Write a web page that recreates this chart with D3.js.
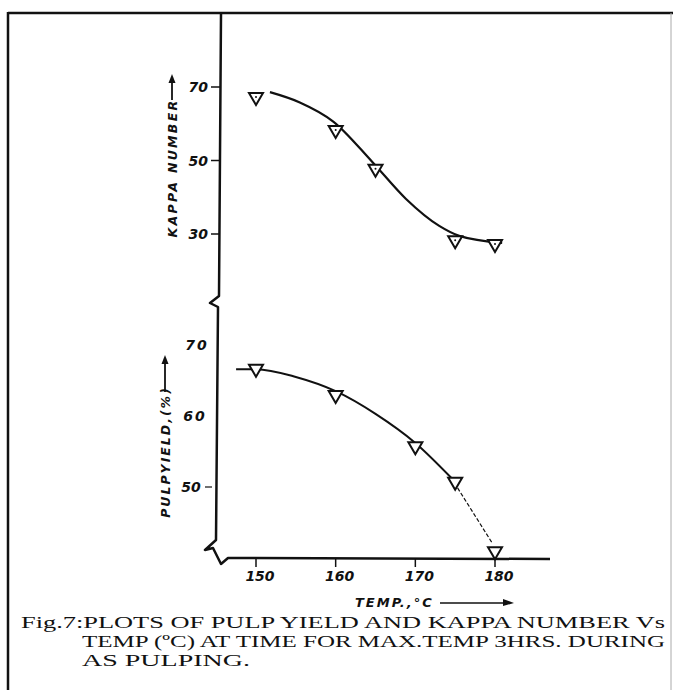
<!DOCTYPE html>
<html>
<head>
<meta charset="utf-8">
<script src="https://cdn.jsdelivr.net/npm/d3@7"></script>
<style>
  html, body { margin: 0; padding: 0; background: #fff; }
  svg { display: block; }
</style>
</head>
<body>
<svg id="chart" width="673" height="690"></svg>
<script>
// ---- data ----
const kappaTemps = [150, 160, 165, 175, 180];
const kappaValues = [67, 58, 47.5, 28, 27];
const yieldTemps = [150, 160, 170, 175, 180];
const yieldValues = [66.5, 62.8, 55.6, 50.6, 40.8];
// hand-drawn fitted curves (temp, value)
const kappaCurveTemps = [151.75, 155.5, 159.7, 164.6, 168.8, 173, 175.5, 180.9];
const kappaCurveValues = [68.6, 65.8, 60.6, 49.6, 39.6, 32.2, 29.5, 27.6];
const yieldCurveTemps = [147.5, 150, 155, 160, 165, 170, 174.5];
const yieldCurveValues = [66.6, 66.6, 65.5, 63.5, 60.3, 56.2, 51.3];
const yieldTailTemps = [174.5, 179.6];
const yieldTailValues = [51.3, 42.2];
const xTicks = [150, 160, 170, 180];
const kappaTicks = [70, 50, 30];
const yieldTicks = [70, 60, 50];
const captionLines = [
  "Fig.7:PLOTS OF PULP YIELD AND KAPPA NUMBER Vs",
  "TEMP (ºC) AT TIME FOR MAX.TEMP 3HRS. DURING",
  "AS PULPING."
];

// ---- scales ----
const x = d3.scaleLinear().domain([150, 180]).range([256, 495]);
const yK = d3.scaleLinear().domain([30, 70]).range([234, 87]);
const yY = d3.scaleLinear().domain([50, 70]).range([487, 345]);

const svg = d3.select("#chart");
const ink = "#111";
const handFont = "'DejaVu Sans', sans-serif";

// ---- frame ----
svg.append("line").attr("x1", 8).attr("x2", 673).attr("y1", 13).attr("y2", 13)
  .attr("stroke", ink).attr("stroke-width", 2.5);
svg.append("line").attr("x1", 8).attr("x2", 8).attr("y1", 12).attr("y2", 690)
  .attr("stroke", ink).attr("stroke-width", 2.5);
svg.append("line").attr("x1", 671).attr("x2", 671).attr("y1", 13).attr("y2", 690)
  .attr("stroke", "#aaa").attr("stroke-width", 1);

// ---- axes (hand-drawn with breaks) ----
const axisPath = d3.path();
axisPath.moveTo(221, 14);
axisPath.lineTo(219, 296);
axisPath.lineTo(210, 303);
axisPath.lineTo(218, 307);
axisPath.lineTo(216, 540);
axisPath.lineTo(205, 550);
axisPath.lineTo(213, 548);
axisPath.lineTo(221, 564);
axisPath.lineTo(228, 558);
axisPath.lineTo(550, 559);
svg.append("path").attr("d", axisPath.toString()).attr("fill", "none")
  .attr("stroke", ink).attr("stroke-width", 2.5).attr("stroke-linejoin", "round");

// x ticks
xTicks.forEach(t => {
  svg.append("line").attr("x1", x(t)).attr("x2", x(t)).attr("y1", 559).attr("y2", 567)
    .attr("stroke", ink).attr("stroke-width", 1.5);
  svg.append("text").attr("x", x(t) + 4).attr("y", 581)
    .attr("text-anchor", "middle").attr("font-family", handFont)
    .attr("font-weight", "bold").attr("font-style", "italic")
    .attr("font-size", 14).attr("fill", ink).text(t);
});

// kappa ticks
kappaTicks.forEach(t => {
  svg.append("line").attr("x1", 211).attr("x2", 220).attr("y1", yK(t)).attr("y2", yK(t))
    .attr("stroke", ink).attr("stroke-width", 1.5);
  svg.append("text").attr("x", 208).attr("y", yK(t) + 5)
    .attr("text-anchor", "end").attr("font-family", handFont)
    .attr("font-weight", "bold").attr("font-style", "italic")
    .attr("font-size", 14).attr("fill", ink).text(t);
});

// yield ticks
yieldTicks.forEach(t => {
  if (t === 50) {
    svg.append("line").attr("x1", 205).attr("x2", 212).attr("y1", yY(t)).attr("y2", yY(t))
      .attr("stroke", ink).attr("stroke-width", 1.2);
  }
  svg.append("text").attr("x", t === 50 ? 191 : (t === 70 ? 197 : 195)).attr("y", yY(t) + 5)
    .attr("text-anchor", "middle").attr("font-family", handFont)
    .attr("font-weight", "bold").attr("font-style", "italic")
    .attr("font-size", 14).attr("letter-spacing", t === 50 ? 0 : 2)
    .attr("fill", ink).text(t);
});

// ---- axis titles ----
function arrowUp(cx, y0, y1) {
  svg.append("line").attr("x1", cx).attr("x2", cx).attr("y1", y0).attr("y2", y1 + 6)
    .attr("stroke", ink).attr("stroke-width", 1.8);
  svg.append("path")
    .attr("d", `M${cx - 3.5},${y1 + 9} L${cx},${y1} L${cx + 3.5},${y1 + 9} Z`)
    .attr("fill", ink);
}
svg.append("text")
  .attr("transform", "translate(177,168) rotate(-90)")
  .attr("text-anchor", "middle").attr("font-family", handFont)
  .attr("font-weight", "bold").attr("font-style", "italic")
  .attr("font-size", 12.5).attr("letter-spacing", 2.3).attr("fill", ink)
  .text("KAPPA NUMBER");
arrowUp(172, 100, 74);

svg.append("text")
  .attr("transform", "translate(170,452) rotate(-90)")
  .attr("text-anchor", "middle").attr("font-family", handFont)
  .attr("font-weight", "bold").attr("font-style", "italic")
  .attr("font-size", 12.5).attr("letter-spacing", 2).attr("fill", ink)
  .text("PULPYIELD,(%)");
arrowUp(165, 392, 355);

svg.append("text").attr("x", 355).attr("y", 607)
  .attr("font-family", handFont).attr("font-weight", "bold").attr("font-style", "italic")
  .attr("font-size", 13).attr("letter-spacing", 2).attr("fill", ink)
  .text("TEMP.,°C");
svg.append("line").attr("x1", 440).attr("x2", 506).attr("y1", 603).attr("y2", 603)
  .attr("stroke", ink).attr("stroke-width", 1.6);
svg.append("path").attr("d", "M503,599 L514,603 L503,606 Z").attr("fill", ink);

// ---- curves ----
const line = (ys) => d3.line().x(d => x(d[0])).y(d => ys(d[1])).curve(d3.curveMonotoneX);
svg.append("path")
  .attr("d", line(yK)(d3.zip(kappaCurveTemps, kappaCurveValues)))
  .attr("fill", "none").attr("stroke", ink).attr("stroke-width", 2.2);
svg.append("path")
  .attr("d", line(yY)(d3.zip(yieldCurveTemps, yieldCurveValues)))
  .attr("fill", "none").attr("stroke", ink).attr("stroke-width", 2);
svg.append("path")
  .attr("d", d3.line().x(d => x(d[0])).y(d => yY(d[1]))(d3.zip(yieldTailTemps, yieldTailValues)))
  .attr("fill", "none").attr("stroke", ink).attr("stroke-width", 1.2)
  .attr("stroke-dasharray", "4,2");

// ---- markers (open down triangles) ----
function tri(cx, cy) {
  return `M${cx - 7},${cy - 5} L${cx + 7},${cy - 5} L${cx},${cy + 7} Z`;
}
d3.zip(kappaTemps, kappaValues).forEach(d => {
  svg.append("path").attr("d", tri(x(d[0]), yK(d[1])))
    .attr("fill", "#fff").attr("stroke", ink).attr("stroke-width", 2);
  svg.append("circle").attr("cx", x(d[0])).attr("cy", yK(d[1]) - 1).attr("r", 1)
    .attr("fill", ink);
});
d3.zip(yieldTemps, yieldValues).forEach(d => {
  svg.append("path").attr("d", tri(x(d[0]), yY(d[1])))
    .attr("fill", "#fff").attr("stroke", ink).attr("stroke-width", 2);
});

// ---- caption ----
const capFont = "'Liberation Serif', 'Times New Roman', serif";
const capSize = 17;
[[21, 628, 644], [82, 647, 583], [82, 666, 168]].forEach((p, i) => {
  svg.append("text").attr("x", p[0]).attr("y", p[1])
    .attr("font-family", capFont).attr("font-size", capSize).attr("fill", ink)
    .attr("textLength", p[2]).attr("lengthAdjust", "spacingAndGlyphs")
    .text(captionLines[i]);
});
</script>
</body>
</html>
